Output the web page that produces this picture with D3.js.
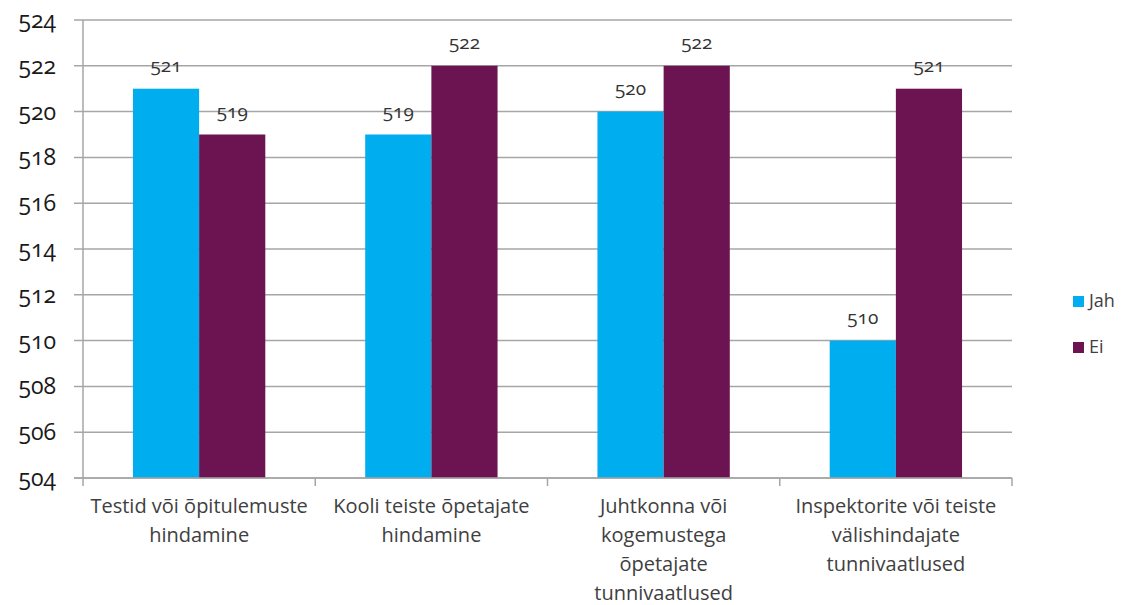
<!DOCTYPE html>
<html>
<head>
<meta charset="utf-8">
<script src="https://cdn.jsdelivr.net/npm/d3@7"></script>
<style>
  body { margin: 0; background: #fff; }
  svg text { font-family: "Open Sans", "Noto Sans", sans-serif; }
</style>
</head>
<body>
<svg width="1126" height="605"></svg>
<script>
const categories = [
  ["Testid või õpitulemuste", "hindamine"],
  ["Kooli teiste õpetajate", "hindamine"],
  ["Juhtkonna või", "kogemustega", "õpetajate", "tunnivaatlused"],
  ["Inspektorite või teiste", "välishindajate", "tunnivaatlused"]
];
const seriesNames = ["Jah", "Ei"];
const jah = [521, 519, 520, 510];
const ei = [519, 522, 522, 521];
const yTicks = [504, 506, 508, 510, 512, 514, 516, 518, 520, 522, 524];
const colors = ["#00adee", "#6b1451"];

const svg = d3.select("svg");

// plot area
const plotLeft = 83, plotRight = 1012, plotTop = 20, plotBottom = 478;

const x = d3.scaleBand()
  .domain(d3.range(categories.length))
  .range([plotLeft, plotRight]);

const xInner = d3.scaleBand()
  .domain(d3.range(seriesNames.length))
  .range([0, x.bandwidth()])
  .paddingOuter(0.755)
  .paddingInner(0);

const y = d3.scaleLinear().domain([504, 524]).range([plotBottom, plotTop]);

// gridlines
svg.append("g")
  .selectAll("line")
  .data(yTicks)
  .join("line")
  .attr("x1", plotLeft - 9)
  .attr("x2", plotRight)
  .attr("y1", d => y(d))
  .attr("y2", d => y(d))
  .attr("stroke", "#a6a6a6")
  .attr("stroke-width", 1.5);

// y axis line
svg.append("line")
  .attr("x1", plotLeft).attr("x2", plotLeft)
  .attr("y1", plotTop).attr("y2", plotBottom)
  .attr("stroke", "#a6a6a6").attr("stroke-width", 1.5);

// y tick labels
svg.append("g")
  .selectAll("text")
  .data(yTicks)
  .join("text")
  .attr("x", 56)
  .attr("y", d => y(d))
  .attr("dy", "0.35em")
  .attr("text-anchor", "end")
  .attr("font-size", 23)
  .style("font-variant-numeric", "oldstyle-nums")
  .attr("fill", "#1a1a1a")
  .text(d => d);

// x category ticks
svg.append("g")
  .selectAll("line")
  .data(d3.range(categories.length + 1))
  .join("line")
  .attr("x1", i => plotLeft + i * x.step())
  .attr("x2", i => plotLeft + i * x.step())
  .attr("y1", plotBottom)
  .attr("y2", plotBottom + 8)
  .attr("stroke", "#a6a6a6").attr("stroke-width", 1.5);

// bars
const data = [jah, ei];
data.forEach((vals, s) => {
  const g = svg.append("g");
  g.selectAll("rect")
    .data(vals)
    .join("rect")
    .attr("x", (d, i) => x(i) + xInner(s))
    .attr("width", xInner.bandwidth())
    .attr("y", d => y(d))
    .attr("height", d => plotBottom - y(d))
    .attr("fill", colors[s]);
  g.selectAll("text")
    .data(vals)
    .join("text")
    .attr("x", (d, i) => x(i) + xInner(s) + xInner.bandwidth() / 2)
    .attr("y", d => y(d) - 17)
    .attr("text-anchor", "middle")
    .attr("font-size", 19)
    .style("font-variant-numeric", "oldstyle-nums")
    .attr("fill", "#333")
    .text(d => d);
});

// x axis line (drawn over bar bottoms)
svg.append("line")
  .attr("x1", plotLeft - 9).attr("x2", plotRight)
  .attr("y1", plotBottom).attr("y2", plotBottom)
  .attr("stroke", "#a6a6a6").attr("stroke-width", 1.5);

// category labels
categories.forEach((lines, i) => {
  const t = svg.append("text")
    .attr("x", x(i) + x.bandwidth() / 2)
    .attr("y", 513)
    .attr("text-anchor", "middle")
    .attr("font-size", 20)
    .attr("fill", "#404040");
  lines.forEach((ln, k) => {
    t.append("tspan")
      .attr("x", x(i) + x.bandwidth() / 2)
      .attr("dy", k === 0 ? 0 : 29)
      .text(ln);
  });
});

// legend
const legend = svg.append("g");
seriesNames.forEach((name, s) => {
  const ly = 301 + s * 46;
  legend.append("rect")
    .attr("x", 1073).attr("y", ly - 5)
    .attr("width", 11).attr("height", 11)
    .attr("fill", colors[s]);
  legend.append("text")
    .attr("x", 1089).attr("y", ly)
    .attr("dy", "0.35em")
    .attr("font-size", 18)
    .attr("fill", "#404040")
    .text(name);
});
</script>
</body>
</html>
